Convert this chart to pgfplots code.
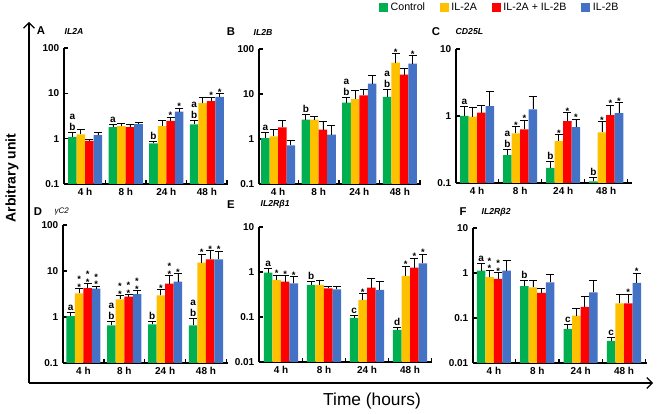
\documentclass[border=0pt]{standalone}
\usepackage{fontspec}
\setmainfont{Liberation Sans}
\usepackage{pgfplots}
\pgfplotsset{compat=1.18}
\usetikzlibrary{arrows.meta}

\definecolor{cG}{HTML}{00B050}
\definecolor{cY}{HTML}{FFC000}
\definecolor{cR}{HTML}{FF0000}
\definecolor{cB}{HTML}{4472C4}

\tikzset{
  lt/.style={font=\bfseries\fontsize{7.5}{8.5}\selectfont, anchor=south, inner sep=1pt, align=center},
  st/.style={font=\bfseries\fontsize{7}{4}\selectfont, anchor=south, inner sep=0pt, align=center, yshift=-1.5pt},
  ttl/.style={font=\bfseries\fontsize{8.5}{10}\selectfont},
  gene/.style={anchor=west, font=\bfseries\itshape\fontsize{6.5}{8}\selectfont},
}
% annotation: group, shift, y, text
\newcommand{\annL}[4]{\node[lt, xshift=#2] at (axis cs:#1,#3) {#4};}
\newcommand{\annS}[4]{\node[st, xshift=#2] at (axis cs:#1,#3) {#4};}

\begin{document}
\begin{tikzpicture}
\useasboundingbox (0,0) rectangle (495.75pt,310.5pt);

% big axes
\draw[line width=0.9pt, -{Straight Barb[length=4pt,width=8pt]}] (21.75pt,23.25pt) -- (21.75pt,294pt);
\draw[line width=0.9pt, -{Straight Barb[length=4pt,width=8pt]}] (21.75pt,23.25pt) -- (489.75pt,23.25pt);
\node[rotate=90, font=\bfseries\fontsize{10.5}{12}\selectfont] at (9pt,177pt) {Arbitrary unit};
\node[font=\fontsize{13}{15}\selectfont] at (279pt,9.75pt) {Time (hours)};

% ---------- A ----------
\begin{axis}[scale only axis, ymode=log, log origin=infty, axis lines*=left,
  axis line style={line width=1.1pt}, ybar=0pt, bar width=6.4pt,
  tick align=inside, major tick length=3pt, tick style={line width=1.1pt, black},
  yminorticks=false, clip=false,
  xtick={0.5,1.5,2.5,3.5}, xticklabels={4 h,8 h,24 h,48 h},
  xticklabel style={xshift=-15.2pt},
  tick label style={font=\bfseries\fontsize{7.5}{8}\selectfont},
  at={(48pt,172.5pt)}, width=123pt, height=102pt,
  xmin=-0.52, xmax=3.52, ymin=0.1, ymax=100,
  ytick={0.1,1,10,100}, yticklabels={0.1,1,10,100}]
\addplot[draw=none, fill=cG, error bars/.cd, y dir=plus, y explicit, error bar style={black, line width=0.6pt}, error mark options={rotate=90, black, mark size=3pt, line width=0.6pt}]
  coordinates {(0,1.09) +- (0,0.31) (1,1.8) +- (0,0.3) (2,0.79) +- (0,0.07) (3,2.06) +- (0,0.44)};
\addplot[draw=none, fill=cY, error bars/.cd, y dir=plus, y explicit, error bar style={black, line width=0.6pt}, error mark options={rotate=90, black, mark size=3pt, line width=0.6pt}]
  coordinates {(0,1.24) +- (0,0.36) (1,1.89) +- (0,0.27) (2,1.89) +- (0,0.66) (3,6.1) +- (0,2.0)};
\addplot[draw=none, fill=cR, error bars/.cd, y dir=plus, y explicit, error bar style={black, line width=0.6pt}, error mark options={rotate=90, black, mark size=3pt, line width=0.6pt}]
  coordinates {(0,0.89) +- (0,0.06) (1,1.8) +- (0,0.25) (2,2.47) +- (0,0.53) (3,6.7) +- (0,1.6)};
\addplot[draw=none, fill=cB, error bars/.cd, y dir=plus, y explicit, error bar style={black, line width=0.6pt}, error mark options={rotate=90, black, mark size=3pt, line width=0.6pt}]
  coordinates {(0,1.2) +- (0,0.2) (1,2.09) +- (0,0.21) (2,3.95) +- (0,0.75) (3,8.4) +- (0,1.6)};
\annL{0}{-9.6pt}{1.4}{a\\b}
\annL{1}{-9.6pt}{2.1}{a}
\annL{2}{-9.6pt}{0.86}{b}
\annS{2}{3.2pt}{3.0}{*}
\annS{2}{9.6pt}{4.7}{*}
\annL{3}{-9.6pt}{2.5}{a\\b}
\annS{3}{3.2pt}{8.3}{*}
\annS{3}{9.6pt}{10}{*}
\end{axis}
\node[ttl] at (30.75pt,287.25pt) {A};
\node[gene] at (45pt,287.25pt) {IL2A};

% ---------- B ----------
\begin{axis}[scale only axis, ymode=log, log origin=infty, axis lines*=left,
  axis line style={line width=1.1pt}, ybar=0pt, bar width=6.4pt,
  tick align=inside, major tick length=3pt, tick style={line width=1.1pt, black},
  yminorticks=false, clip=false,
  xtick={0.5,1.5,2.5,3.5}, xticklabels={4 h,8 h,24 h,48 h},
  xticklabel style={xshift=-15.2pt},
  tick label style={font=\bfseries\fontsize{7.5}{8}\selectfont},
  at={(194.25pt,172.5pt)}, width=121.5pt, height=101.25pt,
  xmin=-0.47, xmax=3.52, ymin=0.1, ymax=100,
  ytick={0.1,1,10,100}, yticklabels={0.1,1,10,100}]
\addplot[draw=none, fill=cG, error bars/.cd, y dir=plus, y explicit, error bar style={black, line width=0.6pt}, error mark options={rotate=90, black, mark size=3pt, line width=0.6pt}]
  coordinates {(0,1.05) +- (0,0.38) (1,2.69) +- (0,0.78) (2,6.4) +- (0,2.1) (3,8.6) +- (0,3.9)};
\addplot[draw=none, fill=cY, error bars/.cd, y dir=plus, y explicit, error bar style={black, line width=0.6pt}, error mark options={rotate=90, black, mark size=3pt, line width=0.6pt}]
  coordinates {(0,1.15) +- (0,0.46) (1,2.69) +- (0,0.5) (2,7.7) +- (0,4.3) (3,50) +- (0,28)};
\addplot[draw=none, fill=cR, error bars/.cd, y dir=plus, y explicit, error bar style={black, line width=0.6pt}, error mark options={rotate=90, black, mark size=3pt, line width=0.6pt}]
  coordinates {(0,1.82) +- (0,0.78) (1,1.61) +- (0,0.79) (2,9.3) +- (0,3.2) (3,27) +- (0,11)};
\addplot[draw=none, fill=cB, error bars/.cd, y dir=plus, y explicit, error bar style={black, line width=0.6pt}, error mark options={rotate=90, black, mark size=3pt, line width=0.6pt}]
  coordinates {(0,0.72) +- (0,0.2) (1,1.25) +- (0,0.73) (2,16.9) +- (0,9.1) (3,47) +- (0,24)};
\annL{0}{-9.6pt}{1.43}{a}
\annL{1}{-9.6pt}{3.47}{b}
\annL{2}{-9.6pt}{8.5}{a\\b}
\annL{3}{-9.6pt}{12.5}{a\\b}
\annS{3}{-3.2pt}{78}{*}
\annS{3}{9.6pt}{71}{*}
\end{axis}
\node[ttl] at (173.25pt,286.5pt) {B};
\node[gene] at (186.75pt,286.5pt) {IL2B};

% ---------- C ----------
\begin{axis}[scale only axis, ymode=log, log origin=infty, axis lines*=left,
  axis line style={line width=1.1pt}, ybar=0pt, bar width=6.4pt,
  tick align=inside, major tick length=3pt, tick style={line width=1.1pt, black},
  yminorticks=false, clip=false,
  xtick={0.5,1.5,2.5,3.5}, xticklabels={4 h,8 h,24 h,48 h},
  xticklabel style={xshift=-16.1pt},
  tick label style={font=\bfseries\fontsize{7.5}{8}\selectfont},
  at={(342pt,173.25pt)}, width=132pt, height=100.5pt,
  xmin=-0.49, xmax=3.6, ymin=0.1, ymax=10,
  ytick={0.1,1,10}, yticklabels={0.1,1,10},
  legend columns=4,
  legend style={at={(axis description cs:0.25,1.31)}, anchor=center, draw=none,
    font=\fontsize{8}{9}\selectfont, /tikz/every even column/.append style={column sep=9pt}},
  legend image code/.code={\fill[#1] (0pt,-3.4pt) rectangle (6.8pt,3.4pt);}]
\addplot[draw=none, fill=cG, error bars/.cd, y dir=plus, y explicit, error bar style={black, line width=0.6pt}, error mark options={rotate=90, black, mark size=3pt, line width=0.6pt}]
  coordinates {(0,1.0) +- (0,0.39) (1,0.26) +- (0,0.06) (2,0.168) +- (0,0.042) (3,0.106) +- (0,0.014)};
\addplot[draw=none, fill=cY, error bars/.cd, y dir=plus, y explicit, error bar style={black, line width=0.6pt}, error mark options={rotate=90, black, mark size=3pt, line width=0.6pt}]
  coordinates {(0,0.98) +- (0,0.38) (1,0.55) +- (0,0.14) (2,0.42) +- (0,0.11) (3,0.57) +- (0,0.25)};
\addplot[draw=none, fill=cR, error bars/.cd, y dir=plus, y explicit, error bar style={black, line width=0.6pt}, error mark options={rotate=90, black, mark size=3pt, line width=0.6pt}]
  coordinates {(0,1.12) +- (0,0.34) (1,0.63) +- (0,0.24) (2,0.84) +- (0,0.28) (3,1.03) +- (0,0.43)};
\addplot[draw=none, fill=cB, error bars/.cd, y dir=plus, y explicit, error bar style={black, line width=0.6pt}, error mark options={rotate=90, black, mark size=3pt, line width=0.6pt}]
  coordinates {(0,1.41) +- (0,0.89) (1,1.26) +- (0,0.73) (2,0.68) +- (0,0.22) (3,1.1) +- (0,0.48)};
\legend{Control, IL-2A, IL-2A + IL-2B, IL-2B}
\annL{0}{-9.6pt}{1.39}{a}
\annL{1}{-9.6pt}{0.32}{a\\b}
\annS{1}{-3.2pt}{0.69}{*}
\annS{1}{3.2pt}{0.87}{*}
\annL{2}{-9.6pt}{0.21}{b}
\annS{2}{-3.2pt}{0.53}{*}
\annS{2}{3.2pt}{1.12}{*}
\annS{2}{9.6pt}{0.9}{*}
\annL{3}{-9.6pt}{0.12}{b}
\annS{3}{-3.2pt}{0.82}{*}
\annS{3}{3.2pt}{1.46}{*}
\annS{3}{9.6pt}{1.58}{*}
\end{axis}
\node[ttl] at (327pt,286.5pt) {C};
\node[gene] at (338.25pt,286.5pt) {CD25L};

% ---------- D ----------
\begin{axis}[scale only axis, ymode=log, log origin=infty, axis lines*=left,
  axis line style={line width=1.1pt}, ybar=0pt, bar width=6.4pt,
  tick align=inside, major tick length=3pt, tick style={line width=1.1pt, black},
  yminorticks=false, clip=false,
  xtick={0.5,1.5,2.5,3.5}, xticklabels={4 h,8 h,24 h,48 h},
  xticklabel style={xshift=-15.3pt},
  tick label style={font=\bfseries\fontsize{7.5}{8}\selectfont},
  at={(47.25pt,38.25pt)}, width=123.75pt, height=103.5pt,
  xmin=-0.5, xmax=3.54, ymin=0.1, ymax=100,
  ytick={0.1,1,10,100}, yticklabels={0.1,1,10,100}]
\addplot[draw=none, fill=cG, error bars/.cd, y dir=plus, y explicit, error bar style={black, line width=0.6pt}, error mark options={rotate=90, black, mark size=3pt, line width=0.6pt}]
  coordinates {(0,1.05) +- (0,0.23) (1,0.66) +- (0,0.14) (2,0.69) +- (0,0.13) (3,0.66) +- (0,0.28)};
\addplot[draw=none, fill=cY, error bars/.cd, y dir=plus, y explicit, error bar style={black, line width=0.6pt}, error mark options={rotate=90, black, mark size=3pt, line width=0.6pt}]
  coordinates {(0,3.27) +- (0,0.83) (1,2.42) +- (0,0.54) (2,2.96) +- (0,1.04) (3,15.2) +- (0,8.1)};
\addplot[draw=none, fill=cR, error bars/.cd, y dir=plus, y explicit, error bar style={black, line width=0.6pt}, error mark options={rotate=90, black, mark size=3pt, line width=0.6pt}]
  coordinates {(0,4.27) +- (0,1.03) (1,2.77) +- (0,0.33) (2,5.3) +- (0,2.7) (3,17.9) +- (0,9.8)};
\addplot[draw=none, fill=cB, error bars/.cd, y dir=plus, y explicit, error bar style={black, line width=0.6pt}, error mark options={rotate=90, black, mark size=3pt, line width=0.6pt}]
  coordinates {(0,4.13) +- (0,0.57) (1,3.16) +- (0,0.64) (2,5.87) +- (0,2.93) (3,17.9) +- (0,9.1)};
\annL{0}{-9.6pt}{1.28}{a}
\annS{0}{-3.2pt}{4.1}{*\\*}
\annS{0}{3.2pt}{5.3}{*\\*}
\annS{0}{9.6pt}{4.7}{*\\*}
\annL{1}{-9.6pt}{0.8}{a\\b}
\annS{1}{-3.2pt}{2.96}{*\\*}
\annS{1}{3.2pt}{3.1}{*\\*}
\annS{1}{9.6pt}{3.8}{*\\*}
\annL{2}{-9.6pt}{0.82}{b}
\annS{2}{-3.2pt}{4.0}{*}
\annS{2}{3.2pt}{8.0}{*\\*}
\annS{2}{9.6pt}{8.8}{*}
\annL{3}{-9.6pt}{0.94}{a\\b}
\annS{3}{-3.2pt}{23.3}{*}
\annS{3}{3.2pt}{27.7}{*}
\annS{3}{9.6pt}{27}{*}
\end{axis}
\node[ttl] at (28.5pt,151.5pt) {D};
\node[anchor=west, font=\itshape\fontsize{6}{8}\selectfont] at (37.5pt,151.5pt) {γC2};

% ---------- E ----------
\begin{axis}[scale only axis, ymode=log, log origin=infty, axis lines*=left,
  axis line style={line width=1.1pt}, ybar=0pt, bar width=6.4pt,
  tick align=inside, major tick length=3pt, tick style={line width=1.1pt, black},
  yminorticks=false, clip=false,
  xtick={0.5,1.5,2.5,3.5}, xticklabels={4 h,8 h,24 h,48 h},
  xticklabel style={xshift=-16.1pt},
  tick label style={font=\bfseries\fontsize{7.5}{8}\selectfont},
  at={(194.25pt,39pt)}, width=129.75pt, height=101.25pt,
  xmin=-0.51, xmax=3.51, ymin=0.01, ymax=10,
  ytick={0.01,0.1,1,10}, yticklabels={0.01,0.1,1,10}]
\addplot[draw=none, fill=cG, error bars/.cd, y dir=plus, y explicit, error bar style={black, line width=0.6pt}, error mark options={rotate=90, black, mark size=3pt, line width=0.6pt}]
  coordinates {(0,0.97) +- (0,0.23) (1,0.52) +- (0,0.09) (2,0.095) +- (0,0.015) (3,0.052) +- (0,0.008)};
\addplot[draw=none, fill=cY, error bars/.cd, y dir=plus, y explicit, error bar style={black, line width=0.6pt}, error mark options={rotate=90, black, mark size=3pt, line width=0.6pt}]
  coordinates {(0,0.67) +- (0,0.19) (1,0.52) +- (0,0.13) (2,0.24) +- (0,0.09) (3,0.82) +- (0,0.54)};
\addplot[draw=none, fill=cR, error bars/.cd, y dir=plus, y explicit, error bar style={black, line width=0.6pt}, error mark options={rotate=90, black, mark size=3pt, line width=0.6pt}]
  coordinates {(0,0.61) +- (0,0.21) (1,0.43) +- (0,0.04) (2,0.45) +- (0,0.26) (3,1.25) +- (0,0.79)};
\addplot[draw=none, fill=cB, error bars/.cd, y dir=plus, y explicit, error bar style={black, line width=0.6pt}, error mark options={rotate=90, black, mark size=3pt, line width=0.6pt}]
  coordinates {(0,0.56) +- (0,0.22) (1,0.41) +- (0,0.06) (2,0.4) +- (0,0.22) (3,1.55) +- (0,0.95)};
\annL{0}{-9.6pt}{1.2}{a}
\annS{0}{-3.2pt}{0.86}{*}
\annS{0}{3.2pt}{0.82}{*}
\annS{0}{9.6pt}{0.78}{*}
\annL{1}{-9.6pt}{0.61}{b}
\annL{2}{-9.6pt}{0.11}{c}
\annS{2}{-3.2pt}{0.33}{*}
\annL{3}{-9.6pt}{0.06}{d}
\annS{3}{-3.2pt}{1.36}{*}
\annS{3}{3.2pt}{2.04}{*}
\annS{3}{9.6pt}{2.5}{*}
\end{axis}
\node[ttl] at (173.25pt,156.75pt) {E};
\node[gene] at (192pt,157.5pt) {IL2Rβ1};

% ---------- F ----------
\begin{axis}[scale only axis, ymode=log, log origin=infty, axis lines*=left,
  axis line style={line width=1.1pt}, ybar=0pt, bar width=6.4pt,
  tick align=inside, major tick length=3pt, tick style={line width=1.1pt, black},
  yminorticks=false, clip=false,
  xtick={0.5,1.5,2.5,3.5}, xticklabels={4 h,8 h,24 h,48 h},
  xticklabel style={xshift=-16.2pt},
  tick label style={font=\bfseries\fontsize{7.5}{8}\selectfont},
  at={(354.75pt,38.25pt)}, width=130.5pt, height=101.25pt,
  xmin=-0.48, xmax=3.53, ymin=0.01, ymax=10,
  ytick={0.01,0.1,1,10}, yticklabels={0.01,0.1,1,10}]
\addplot[draw=none, fill=cG, error bars/.cd, y dir=plus, y explicit, error bar style={black, line width=0.6pt}, error mark options={rotate=90, black, mark size=3pt, line width=0.6pt}]
  coordinates {(0,1.13) +- (0,0.48) (1,0.51) +- (0,0.18) (2,0.057) +- (0,0.014) (3,0.031) +- (0,0.006)};
\addplot[draw=none, fill=cY, error bars/.cd, y dir=plus, y explicit, error bar style={black, line width=0.6pt}, error mark options={rotate=90, black, mark size=3pt, line width=0.6pt}]
  coordinates {(0,0.81) +- (0,0.34) (1,0.48) +- (0,0.21) (2,0.113) +- (0,0.054) (3,0.21) +- (0,0.13)};
\addplot[draw=none, fill=cR, error bars/.cd, y dir=plus, y explicit, error bar style={black, line width=0.6pt}, error mark options={rotate=90, black, mark size=3pt, line width=0.6pt}]
  coordinates {(0,0.74) +- (0,0.29) (1,0.36) +- (0,0.1) (2,0.176) +- (0,0.124) (3,0.21) +- (0,0.13)};
\addplot[draw=none, fill=cB, error bars/.cd, y dir=plus, y explicit, error bar style={black, line width=0.6pt}, error mark options={rotate=90, black, mark size=3pt, line width=0.6pt}]
  coordinates {(0,1.13) +- (0,0.75) (1,0.62) +- (0,0.3) (2,0.37) +- (0,0.31) (3,0.6) +- (0,0.4)};
\annL{0}{-9.6pt}{1.61}{a}
\annS{0}{-3.2pt}{1.15}{*\\*}
\annS{0}{3.2pt}{1.03}{*\\*}
\annL{1}{-9.6pt}{0.69}{b}
\annL{2}{-9.6pt}{0.071}{c}
\annL{3}{-9.6pt}{0.037}{c}
\annS{3}{3.2pt}{0.34}{*}
\annS{3}{9.6pt}{1.0}{*}
\end{axis}
\node[ttl] at (347.25pt,151.5pt) {F};
\node[gene] at (357.75pt,151.5pt) {IL2Rβ2};
\end{tikzpicture}
\end{document}
